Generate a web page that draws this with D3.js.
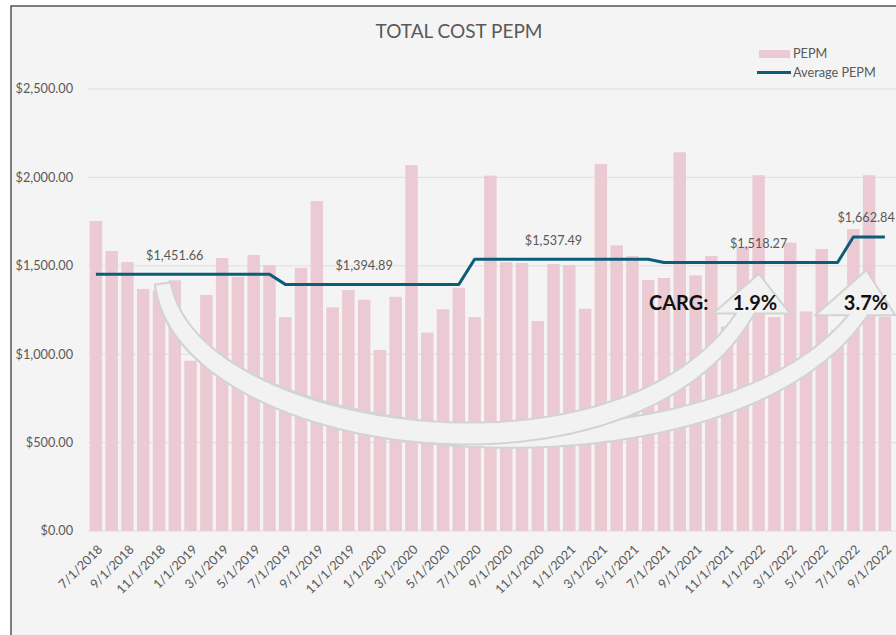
<!DOCTYPE html>
<html><head><meta charset="utf-8">
<script src="https://cdn.jsdelivr.net/npm/d3@7"></script>
<style>
html,body{margin:0;padding:0;background:#ffffff;}
svg{display:block;font-family:Lato,"Open Sans",sans-serif;}
</style>
</head><body>
<svg id="chart" width="896" height="635"></svg>
<script>
// ---------- DATA ----------
const months = ["7/1/2018","8/1/2018","9/1/2018","10/1/2018","11/1/2018","12/1/2018",
"1/1/2019","2/1/2019","3/1/2019","4/1/2019","5/1/2019","6/1/2019","7/1/2019","8/1/2019","9/1/2019","10/1/2019","11/1/2019","12/1/2019",
"1/1/2020","2/1/2020","3/1/2020","4/1/2020","5/1/2020","6/1/2020","7/1/2020","8/1/2020","9/1/2020","10/1/2020","11/1/2020","12/1/2020",
"1/1/2021","2/1/2021","3/1/2021","4/1/2021","5/1/2021","6/1/2021","7/1/2021","8/1/2021","9/1/2021","10/1/2021","11/1/2021","12/1/2021",
"1/1/2022","2/1/2022","3/1/2022","4/1/2022","5/1/2022","6/1/2022","7/1/2022","8/1/2022","9/1/2022"];
const pepm = [1753,1584,1521,1369,1360,1418,
963,1335,1544,1438,1561,1504,1210,1489,1866,1265,1363,1308,
1024,1325,2070,1122,1254,1376,1210,2010,1520,1516,1188,1510,
1504,1257,2076,1616,1555,1420,1431,2142,1446,1555,1156,1608,
2012,1210,1631,1242,1595,1137,1708,2012,1212];
const planYearStart = ["7/1/2018","7/1/2019","7/1/2020","7/1/2021","7/1/2022"];
const planYearAvg = [1451.66,1394.89,1537.49,1518.27,1662.84];
const avgLabelMonths = ["12/1/2018","12/1/2019","12/1/2020","1/1/2022","8/1/2022"];
const yTicks = [0,500,1000,1500,2000,2500];
const xTickLabels = months.filter((d,i)=>i%2===0);
const titleText = "TOTAL COST PEPM";
const seriesNames = ["PEPM","Average PEPM"];
const cargTitle = "CARG:";
const cargValues = ["1.9%","3.7%"];

// ---------- SETUP ----------
const svg = d3.select("#chart");
const TXT = "#595959", BAR = "#ebcad4", LINE = "#0b5e79", GRID = "#dedede";

svg.append("rect").attr("x",11).attr("y",6).attr("width",1000).attr("height",1000)
  .attr("fill","#f4f4f4").attr("stroke","#3c3c3c").attr("stroke-width",1.3);

const x = d3.scaleBand().domain(months).range([88, 88 + 51*15.78]).paddingInner(0.21).paddingOuter(0.105);
const y = d3.scaleLinear().domain([0,2500]).range([531, 89]);
const xc = m => x(m) + x.bandwidth()/2;

// grid
svg.append("g").selectAll("line").data(yTicks).join("line")
  .attr("x1",88).attr("x2",896).attr("y1",d=>y(d)).attr("y2",d=>y(d))
  .attr("stroke",GRID).attr("stroke-width",1);

// y axis labels
const fmt = d3.format("$,.2f");
svg.append("g").selectAll("text").data(yTicks).join("text")
  .attr("x",73).attr("y",d=>y(d)).attr("dy","0.35em").attr("text-anchor","end")
  .attr("fill",TXT).attr("font-size",12.7).text(d=>fmt(d));

// bars
svg.append("g").selectAll("rect").data(months).join("rect")
  .attr("x",d=>x(d)).attr("width",x.bandwidth())
  .attr("y",(d,i)=>y(pepm[i])).attr("height",(d,i)=>y(0)-y(pepm[i]))
  .attr("fill",BAR);

// average line
const startIdx = planYearStart.map(m=>months.indexOf(m));
const avgOf = i => { let k=0; startIdx.forEach((s,j)=>{ if(i>=s) k=j; }); return planYearAvg[k]; };
const avgData = months.map((m,i)=>({m, v:avgOf(i)}));
svg.append("path").datum(avgData)
  .attr("d", d3.line().x(d=>xc(d.m)).y(d=>y(d.v)))
  .attr("fill","none").attr("stroke",LINE).attr("stroke-width",3).attr("stroke-linejoin","round");

// avg labels
svg.append("g").selectAll("text").data(avgLabelMonths).join("text")
  .attr("x",(d,i)=>xc(d) - (i===4 ? 3 : 0)).attr("y",d=>y(avgOf(months.indexOf(d))) - 19).attr("dy","0.35em")
  .attr("text-anchor","middle").attr("fill",TXT).attr("font-size",12.7)
  .text(d=>fmt(avgOf(months.indexOf(d))));

// x labels
svg.append("g").selectAll("text").data(xTickLabels).join("text")
  .attr("transform",d=>`translate(${xc(d)+1},544) rotate(-45)`)
  .attr("dy","0.7em").attr("text-anchor","end")
  .attr("fill",TXT).attr("font-size",12.7).text(d=>d);

// ---------- CURVED ARROWS (annotation) ----------
function bez(P,t){const u=1-t;return [0,1].map(k=>u*u*u*P[0][k]+3*u*u*t*P[1][k]+3*u*t*t*P[2][k]+t*t*t*P[3][k]);}
function dbez(P,t){const u=1-t;return [0,1].map(k=>3*u*u*(P[1][k]-P[0][k])+6*u*t*(P[2][k]-P[1][k])+3*t*t*(P[3][k]-P[2][k]));}
function arrowPath(P, baseY, hl, hr, tip){
  const N=200; const A=[],B=[]; let doneA=false, doneB=false, pa=null, pb=null;
  for(let k=0;k<=N*1.4;k++){
    const t=k/N, p=bez(P,t), d=dbez(P,t), L=Math.hypot(d[0],d[1]);
    const n=[-d[1]/L, d[0]/L], w=(16+6*Math.sin(Math.PI*Math.min(t,1)))/2;
    const a=[p[0]+n[0]*w,p[1]+n[1]*w], b=[p[0]-n[0]*w,p[1]-n[1]*w];
    if(!doneA){ if(t>0.6 && a[1]<=baseY){ const f=(pa[1]-baseY)/(pa[1]-a[1]); A.push([pa[0]+(a[0]-pa[0])*f, baseY]); doneA=true;} else A.push(a); pa=a; }
    if(!doneB){ if(t>0.6 && b[1]<=baseY){ const f=(pb[1]-baseY)/(pb[1]-b[1]); B.push([pb[0]+(b[0]-pb[0])*f, baseY]); doneB=true;} else B.push(b); pb=b; }
    if(doneA&&doneB) break;
  }
  const pts = A.concat([[hr,baseY],tip,[hl,baseY]]).concat(B.reverse());
  return "M"+pts.map(p=>p[0].toFixed(1)+","+p[1].toFixed(1)).join("L")+"Z";
}
const tail = [xc("11/1/2018")+4, y(1400)];
const arrows = [
  {P:[tail,[xc("12/1/2018")+10,y(400)],[xc("10/1/2021")+4,y(175)],[xc("7/1/2022")+2,y(1200)]],
   baseY:y(1220), hl:xc("7/1/2022")-38, hr:xc("7/1/2022")+42, tip:[xc("7/1/2022")+13,y(1475)]},
  {P:[tail,[xc("12/1/2018")+10,y(510)],[xc("3/1/2021")+16,y(135)],[xc("12/1/2021")-1,y(1200)]],
   baseY:y(1230), hl:xc("12/1/2021")-30, hr:xc("12/1/2021")+47, tip:[xc("12/1/2021")+16,y(1455)]}
];
const ag = svg.append("g");
arrows.forEach(a=>{
  ag.append("path").attr("d",arrowPath(a.P,a.baseY,a.hl,a.hr,a.tip))
    .attr("fill","#f2f2f2").attr("stroke","#d3d3d3").attr("stroke-width",2).attr("stroke-linejoin","miter");
});

// CARG texts
svg.append("text").attr("x",649).attr("y",310).attr("font-size",20).attr("font-weight","bold").attr("fill","#111").text(cargTitle);
svg.append("g").selectAll("text").data(cargValues).join("text")
  .attr("x",(d,i)=>[755,866][i]).attr("y",310).attr("text-anchor","middle")
  .attr("font-size",20).attr("font-weight","bold").attr("fill","#111").text(d=>d);

// title
svg.append("text").attr("x",459).attr("y",38).attr("text-anchor","middle")
  .attr("font-size",19).attr("fill",TXT).text(titleText);

// legend
const lg = svg.append("g");
lg.append("rect").attr("x",759).attr("y",50).attr("width",31).attr("height",8).attr("fill",BAR);
lg.append("line").attr("x1",757).attr("x2",791).attr("y1",72.5).attr("y2",72.5).attr("stroke",LINE).attr("stroke-width",3);
lg.selectAll("text").data(seriesNames).join("text")
  .attr("x",793).attr("y",(d,i)=>[54,72.5][i]).attr("dy","0.35em")
  .attr("font-size",12.7).attr("fill",TXT).text(d=>d);
</script>
</body></html>
